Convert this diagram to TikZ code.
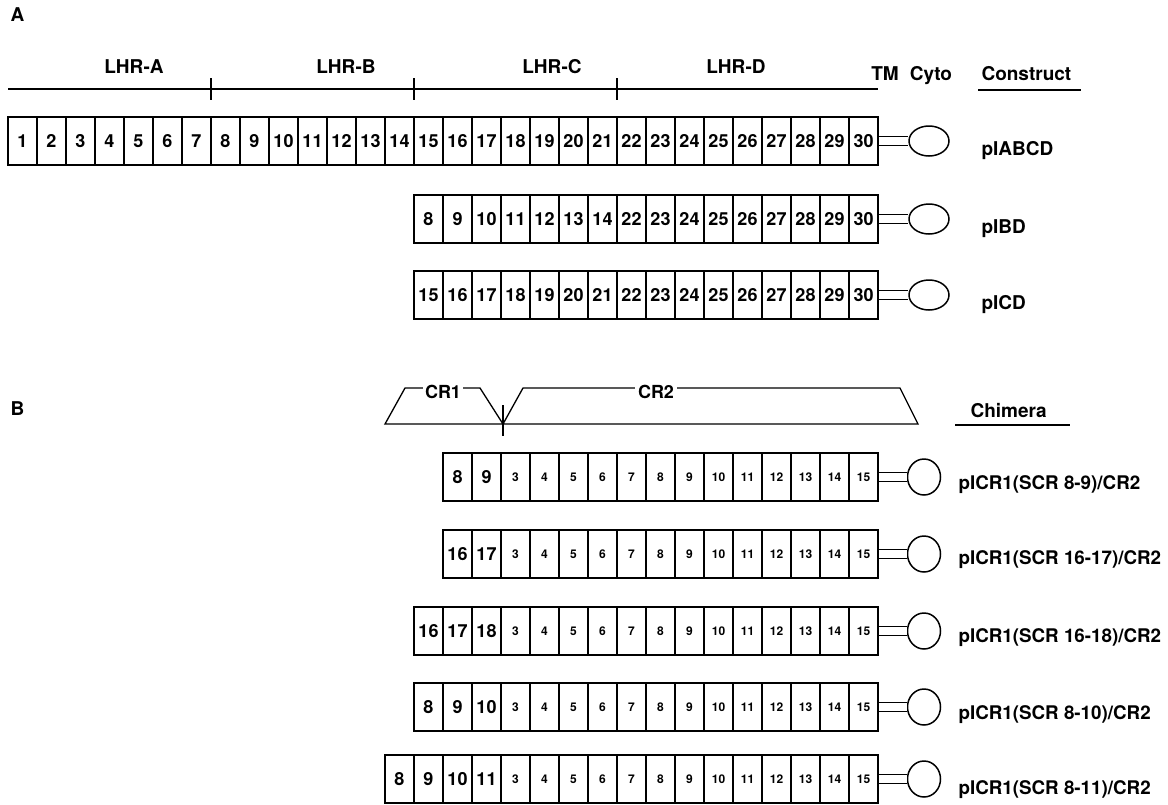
\documentclass[tikz,border=0pt]{standalone}
\usepackage{fontspec}
\setmainfont{TeX Gyre Heros}
\usepackage{tikz}
\usetikzlibrary{positioning,shapes.geometric}
\newcommand{\sz}[1]{\fontsize{#1}{#1}\selectfont\bfseries}

\begin{document}
\begin{tikzpicture}[
    x=1pt, y=-1pt,
    cell/.style={draw, line width=1.5pt, minimum width=29pt,
                 minimum height=48pt, inner sep=0pt, font=\sz{18}},
    smallnum/.style={font=\sz{12}},
    ovalA/.style={ellipse, draw, line width=1.5pt,
                  minimum width=40pt, minimum height=30pt},
    ovalB/.style={ellipse, draw, line width=1.5pt,
                  minimum width=33pt, minimum height=36pt},
    tm/.style={double, double distance=8pt, line width=1.3pt},
    tag/.style={anchor=west, font=\sz{19}},
    tagB/.style={anchor=west, font=\sz{18.8}},
    hdr/.style={anchor=base, font=\sz{19}},
  ]
  \useasboundingbox (0,0) rectangle (1168,804);

  % panel A
  \node[anchor=base west, font=\sz{19}] (panelA) at (7,21) {A};

  \draw[line width=1.2pt] (8,89) -- (878,89);
  \foreach \k in {7,14,21}
    \draw[line width=1.2pt] ({8+29*\k},78) -- ({8+29*\k},100);

  \node[hdr] (lhrA) at (134,73) {LHR-A};
  \node[hdr] (lhrB) at (346,73) {LHR-B};
  \node[hdr] (lhrC) at (552,73) {LHR-C};
  \node[hdr] (lhrD) at (736,73) {LHR-D};
  \node[hdr] (tmlab) at (885,80) {TM};
  \node[hdr] (cytolab) at (931,80) {Cyto};
  \node[hdr, anchor=base west] (construct) at (978,80) {Construct};
  \draw[line width=1.3pt] ([yshift=-10pt]construct.base west)
    -- ([yshift=-10pt,xshift=6pt]construct.base east);

  % pIABCD
  \foreach \n [count=\i] in {1,...,30}
    \node[cell] (a1c\i) at ({29*\i-6.5},141) {\n};
  \node[ovalA] (oa1) at (929,141) {};
  \draw[tm] (a1c30) -- (oa1);
  \node[tag] (pABCD) at (978,151) {pIABCD};

  % pIBD
  \foreach \n [count=\i] in {8,9,10,11,12,13,14,22,23,24,25,26,27,28,29,30}
    \node[cell] (a2c\i) at ({29*\i+399.5},219) {\n};
  \node[ovalA] (oa2) at (929,219) {};
  \draw[tm] (a2c16) -- (oa2);
  \node[tag] (pBD) at (978,229) {pIBD};

  % pICD
  \foreach \n [count=\i] in {15,...,30}
    \node[cell] (a3c\i) at ({29*\i+399.5},295) {\n};
  \node[ovalA] (oa3) at (929,295) {};
  \draw[tm] (a3c16) -- (oa3);
  \node[tag] (pCD) at (978,305) {pICD};

  % panel B
  \node[anchor=base west, font=\sz{19}] (panelB) at (7,415) {B};

  \draw[line width=1.3pt] (503,424) -- (480,388) -- (405,388) -- (385,424)
    -- (918,424) -- (900,388) -- (523,388) -- cycle;
  \draw[line width=1.2pt] (503,405) -- (503,436);
  \node[fill=white, inner sep=2pt, font=\sz{18}] (cr1) at (443,392) {CR1};
  \node[fill=white, inner sep=3pt, font=\sz{18}] (cr2) at (656,392) {CR2};

  \node[hdr, anchor=base west] (chimera) at (967,417) {Chimera};
  \draw[line width=1.3pt] ([yshift=-8pt,xshift=-12pt]chimera.base west)
    -- ([yshift=-8pt,xshift=20pt]chimera.base east);

  % pICR1(SCR 8-9)/CR2
  \foreach \n [count=\i] in {8,9}
    \node[cell] (b1s\i) at ({22.5+29*(14+\i)},477) {\n};
  \foreach \n in {3,...,15}
    \node[cell, smallnum] (b1c\n) at ({428.5+29*\n},477) {\n};
  \node[ovalB] (ob1) at (924,477) {};
  \draw[tm] (b1c15) -- (ob1);
  \node[tagB] (pCR89) at (955,485) {pICR1(SCR 8-9)/CR2};

  % pICR1(SCR 16-17)/CR2
  \foreach \n [count=\i] in {16,17}
    \node[cell] (b2s\i) at ({22.5+29*(14+\i)},554) {\n};
  \foreach \n in {3,...,15}
    \node[cell, smallnum] (b2c\n) at ({428.5+29*\n},554) {\n};
  \node[ovalB] (ob2) at (924,554) {};
  \draw[tm] (b2c15) -- (ob2);
  \node[tagB] (pCR1617) at (955,560) {pICR1(SCR 16-17)/CR2};

  % pICR1(SCR 16-18)/CR2
  \foreach \n [count=\i] in {16,17,18}
    \node[cell] (b3s\i) at ({22.5+29*(13+\i)},631) {\n};
  \foreach \n in {3,...,15}
    \node[cell, smallnum] (b3c\n) at ({428.5+29*\n},631) {\n};
  \node[ovalB] (ob3) at (924,631) {};
  \draw[tm] (b3c15) -- (ob3);
  \node[tagB] (pCR1618) at (955,638) {pICR1(SCR 16-18)/CR2};

  % pICR1(SCR 8-10)/CR2
  \foreach \n [count=\i] in {8,9,10}
    \node[cell] (b4s\i) at ({22.5+29*(13+\i)},707) {\n};
  \foreach \n in {3,...,15}
    \node[cell, smallnum] (b4c\n) at ({428.5+29*\n},707) {\n};
  \node[ovalB] (ob4) at (924,707) {};
  \draw[tm] (b4c15) -- (ob4);
  \node[tagB] (pCR810) at (955,715) {pICR1(SCR 8-10)/CR2};

  % pICR1(SCR 8-11)/CR2
  \foreach \n [count=\i] in {8,9,10,11}
    \node[cell] (b5s\i) at ({22.5+29*(12+\i)},779) {\n};
  \foreach \n in {3,...,15}
    \node[cell, smallnum] (b5c\n) at ({428.5+29*\n},779) {\n};
  \node[ovalB] (ob5) at (924,779) {};
  \draw[tm] (b5c15) -- (ob5);
  \node[tagB] (pCR811) at (955,790) {pICR1(SCR 8-11)/CR2};

\end{tikzpicture}
\end{document}
